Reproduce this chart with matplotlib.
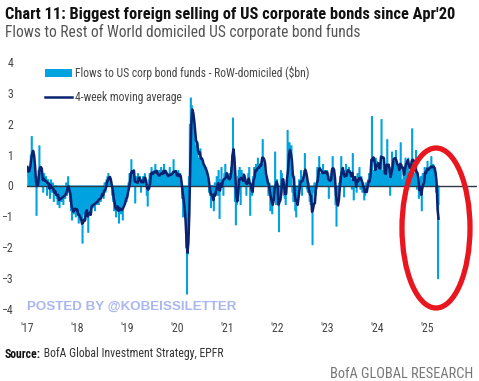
import matplotlib
matplotlib.use('Agg')
import matplotlib.pyplot as plt
import matplotlib.dates as mdates
from matplotlib import font_manager
from matplotlib.patches import Ellipse, Patch
from matplotlib.lines import Line2D
import pandas as pd

# weekly flows ($bn), 52 weeks per year
flows_2017 = [0.6, 0.3, 0.5, 1.0, 1.6, 1.1, 0.8, 0.4, 0.2, -0.95, 0.3, 0.5, 1.3, 0.2, 0.4, 0.3,
              -0.2, 0.4, 0.1, 0.3, -0.3, 0.2, 0.1, -0.4, 0.2, -0.2, 0.1, -0.5, -0.3, 0.0, -0.4, -0.6,
              -0.2, -0.7, -0.3, -0.5, -0.1, -0.6, -0.2, -0.4, 0.1, -0.3, 0.3, -0.2, -0.5, -0.8, -1.1, -0.6,
              -0.9, -0.5, -1.0, -0.8]
flows_2018 = [-0.8, -1.2, -1.0, -1.1, -1.0, -1.85, -0.9, -0.7, -1.1, -0.8, -0.6, -1.5, -0.8, -0.6, -0.9, -0.4,
              -0.7, -0.5, -0.8, -0.3, -0.6, -0.4, -0.6, -0.2, -0.5, -0.3, -0.1, -0.4, 0.1, -0.2, 0.2, 0.3,
              0.4, 0.1, 0.3, 0.0, -0.3, -0.5, -0.8, -0.6, -1.0, -0.7, -0.4, -1.2, -0.6, -0.9, -0.5, -1.1,
              -0.4, -0.6, -0.2, -0.5]
flows_2019 = [-0.3, 0.1, 0.4, 0.2, 0.85, 0.4, 0.2, 0.5, -0.55, 0.3, 0.2, 0.4, 0.1, 0.3, -0.2, 0.2,
              0.3, 0.1, 0.4, 0.2, -0.3, -0.65, 0.2, 0.4, 0.3, 0.6, 0.4, 0.2, 0.5, 0.7, 0.3, 0.4,
              0.1, 0.5, 0.3, 0.6, 0.2, 0.4, 0.7, 0.3, 0.5, 0.2, 0.4, 0.1, 0.6, 0.3, 0.4, 0.2,
              0.85, 0.3, 0.5, 0.2]
flows_2020 = [0.3, 0.5, 0.2, 0.4, 0.1, -0.4, -1.0, -0.5, -1.0, -2.0, -3.5, -2.2, 0.3, 2.0, 2.85, 2.6,
              2.4, 1.6, 1.9, 1.3, 1.0, 1.4, 0.9, 0.8, 1.2, 0.6, 0.9, 0.5, 0.7, 0.4, 0.6, 0.2,
              0.3, -0.2, -0.3, -0.7, 0.0, -0.4, -0.8, 0.1, -0.2, 0.3, -0.3, 0.5, -1.05, 0.2, 0.6, 0.1,
              -0.3, 0.4, 0.7, 0.2]
flows_2021 = [0.3, 0.0, 0.4, 0.1, 0.6, 1.0, 2.2, 0.9, -0.5, -1.26, -0.6, 0.3,
              0.5, 0.6, -0.6, 0.5, 0.4, 0.3, 0.2, 0.1, -0.3, 0.2,
              0.4, 0.6, -0.95, 0.1, -0.3, 0.3, 0.6, 0.4, 0.7, 0.2,
              0.9, 0.5, 0.7, 0.6, 0.8, 1.5, 0.7, 0.4, 0.3, 0.1, 0.2,
              -0.3, 0.1, -0.8, -0.5, -0.9, -0.3, -0.2, 1.1, -0.6]
flows_2022 = [0.2, -0.6, -1.48, -0.3, 0.5, 0.4, 0.2, -0.3, -0.4, -0.6, 0.2,
              1.8, 0.6, 1.4, 0.8, 1.3, -0.2, -0.5, 0.3, -0.8, -1.0, -0.4, -0.3,
              0.2, 0.1, 0.5, -0.3, 0.3, 0.5, 1.05, 0.2, -0.1,
              -0.2, 0.1, -0.5, -0.6, -0.4, -1.9, -0.2, 0.1, -0.3, -0.1,
              0.6, 0.5, 0.95, 0.2, 0.4, 0.3, 0.7, 0.2, 0.5, 0.4]
flows_2023 = [0.5, 0.3, -0.4, 0.3, 0.4, 0.5, 0.95,
              0.4, 0.2, -0.6, -1.3, -0.4, -0.3, 0.1, 0.3, 0.95,
              0.4, 0.6, -0.35, 0.5, 0.7, 0.4, 0.3, 0.6, 0.5, 0.2, -0.1, 1.05,
              -0.45, 0.3, 0.2, -0.2, 0.4, 0.1, 0.6, -0.1, 0.3,
              -0.2, 0.1, -0.45, -0.3, 0.1, -0.2, 0.2, 0.4, 0.1, 0.6, 2.25,
              0.3, 0.5, 0.3, 0.9]
flows_2024 = [0.8, 0.6, 0.6, 0.3, 0.7, 2.15, 0.5, 0.3, 0.6, 0.2, 0.4, 1.5,
              0.5, 0.3, -0.3, 0.6, 1.1, 0.9, 0.8, 0.7, 1.15, 0.6,
              0.3, 0.5, 0.6, 1.4, 0.2, 0.1, 0.6, 0.5,
              0.9, 0.8, 0.7, 0.9, 0.3, 0.4, 0.6, 1.85, 0.5, 0.3, 0.4, 1.15,
              -0.1, 0.2, -0.4, -0.3, 0.3, -0.8, 0.4, 0.2, 0.6, 0.5]
flows_2025 = [0.3, 0.8, 0.4, 0.6, 0.5, 0.95, 0.3, 0.7, 0.5, 0.6, -0.2, -0.5, -3.0, -0.6]

flows = (flows_2017 + flows_2018 + flows_2019 + flows_2020 + flows_2021
         + flows_2022 + flows_2023 + flows_2024 + flows_2025)
weeks = pd.date_range('2017-01-04', periods=len(flows), freq='7D')
series = pd.Series(flows, index=weeks)
ma4 = series.rolling(4, min_periods=1).mean()

year_ticks = pd.to_datetime(['%d-01-01' % y for y in range(2017, 2026)])
y_ticks = [-4, -3, -2, -1, 0, 1, 2, 3, 4]

LIGHT = '#00a3e0'
NAVY = '#0b2270'


def pick_font(names):
    have = {f.name for f in font_manager.fontManager.ttflist}
    for n in names:
        if n in have:
            return n
    return 'DejaVu Sans'


narrow = pick_font(['Liberation Sans Narrow', 'Roboto Condensed', 'Roboto'])
plt.rcParams['font.family'] = [narrow, 'DejaVu Sans']

W, H = 479, 381
fig = plt.figure(figsize=(W / 100, H / 100), dpi=100)


def fx(x):
    return x / W


def fy(y):
    return 1 - y / H


ax = fig.add_axes([fx(27), fy(309), fx(477) - fx(27), fy(62) - fy(309)])

# weekly bars drawn as a stepped area so neighbouring weeks touch
ax.fill_between(series.index, 0, series.values, step='mid', color=LIGHT,
                linewidth=0.8, edgecolor=LIGHT, zorder=2)
ax.axhline(0, color='#2b3a45', lw=1.0, zorder=3)
ax.plot(ma4.index, ma4.values, color=NAVY, lw=1.8, zorder=4)

ax.set_xlim(pd.Timestamp('2017-01-01'), pd.Timestamp('2026-01-01'))
ax.set_ylim(-4, 4)
ax.set_xticks(year_ticks)
ax.xaxis.set_major_formatter(mdates.DateFormatter("'%y"))
ax.set_yticks(y_ticks)
for s in ax.spines.values():
    s.set_visible(False)
ax.tick_params(length=0, labelsize=8.5, colors='#444444')
ax.tick_params(axis='y', pad=10)
ax.tick_params(axis='x', pad=9)

handles = [Patch(facecolor=LIGHT, edgecolor='none'),
           Line2D([], [], color=NAVY, lw=1.8)]
labels = ['Flows to US corp bond funds - RoW-domiciled ($bn)', '4-week moving average']
leg = ax.legend(handles, labels, loc='upper left', bbox_to_anchor=(fx(45), fy(66)),
                bbox_transform=fig.transFigure, frameon=False, fontsize=8.5,
                handlelength=2.3, handleheight=0.7, handletextpad=0.2,
                labelspacing=0.95, borderpad=0, borderaxespad=0)
for t in leg.get_texts():
    t.set_color('#444444')

title = fig.text(fx(5), fy(14), "Chart 11: Biggest foreign selling of US corporate bonds since Apr'20",
                 ha='left', va='center', weight='bold', fontsize=11, color='#111111')
sub = fig.text(fx(5), fy(32), 'Flows to Rest of World domiciled US corporate bond funds',
               ha='left', va='center', fontsize=10, color='#555555')
wm = fig.text(fx(27), fy(307), 'POSTED BY @KOBEISSILETTER', ha='left', va='center',
              weight='bold', fontsize=10.5, color='#aab6f0',
              family=['Liberation Sans', 'DejaVu Sans'], zorder=10)
src_b = fig.text(fx(5), fy(354), 'Source:', ha='left', va='center', weight='bold',
                 fontsize=8.5, color='#111111')
src = fig.text(fx(5), fy(354), ' BofA Global Investment Strategy, EPFR', ha='left',
               va='center', fontsize=8.5, color='#333333')
brand = fig.text(fx(473), fy(374), 'BofA GLOBAL RESEARCH', ha='right', va='center',
                 fontsize=8.5, color='#777777')

ring = Ellipse((fx(436), fy(228)), fx(68), 160 / H, transform=fig.transFigure,
               fill=False, edgecolor='#e8161e', lw=3.8, zorder=20)
fig.patches.append(ring)

# scale the free texts so their widths match the reference
renderer = fig.canvas.get_renderer()


def fit(t, width_px):
    w = t.get_window_extent(renderer).width
    t.set_fontsize(t.get_fontsize() * width_px / w)


fit(title, 447)
fit(sub, 357)
fit(wm, 211)
fit(brand, 143)
fit(src_b, 36)
src.set_fontsize(src_b.get_fontsize())
bb = src_b.get_window_extent(renderer)
src.set_x(bb.x1 / W)
fit(leg.get_texts()[0], 233)
leg.get_texts()[1].set_fontsize(leg.get_texts()[0].get_fontsize())

fig.savefig('out.png', dpi=100)
